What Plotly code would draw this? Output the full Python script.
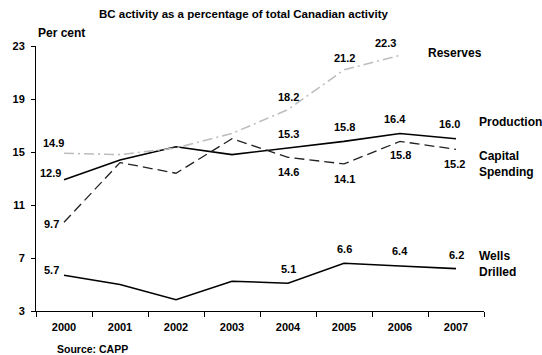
import plotly.graph_objects as go

years = ["2000", "2001", "2002", "2003", "2004", "2005", "2006", "2007"]
production = [12.9, 14.4, 15.4, 14.8, 15.3, 15.8, 16.4, 16.0]
capital_spending = [9.7, 14.2, 13.4, 16.0, 14.6, 14.1, 15.8, 15.2]
reserves = [14.9, 14.8, 15.3, 16.4, 18.2, 21.2, 22.3, None]
wells_drilled = [5.7, 5.0, 3.85, 5.25, 5.1, 6.6, 6.4, 6.2]

y_ticks = [3, 7, 11, 15, 19, 23]

title = "BC activity as a percentage of total Canadian activity"
source = "Source: CAPP"
y_title = "Per cent"

FONT = "Liberation Sans, Arial, sans-serif"

fig = go.Figure()

series = [
    ("Production", production, dict(color="black", width=1.6, dash="solid")),
    ("Capital Spending", capital_spending, dict(color="#222222", width=1.3, dash="10px,5px")),
    ("Reserves", reserves, dict(color="#bdbdbd", width=1.6, dash="10px,4px,2px,4px")),
    ("Wells Drilled", wells_drilled, dict(color="black", width=1.6, dash="solid")),
]
for name, vals, line in series:
    fig.add_trace(go.Scatter(x=years, y=vals, mode="lines", name=name, line=line,
                             connectgaps=False, showlegend=False, hoverinfo="skip"))

# labelled points: (series values, index, xshift, yshift)
label_offsets = [
    (production, 0, -14, 7), (production, 4, 0, 14), (production, 5, 0, 14),
    (production, 6, -5, 14), (production, 7, -7, 15),
    (capital_spending, 0, -13, -2), (capital_spending, 4, 0, -15), (capital_spending, 5, 0, -15),
    (capital_spending, 6, 0, -14), (capital_spending, 7, -2, -15),
    (reserves, 0, -11, 10), (reserves, 4, 0, 13), (reserves, 5, 0, 12), (reserves, 6, -15, 12),
    (wells_drilled, 0, -13, 5), (wells_drilled, 4, 0, 14), (wells_drilled, 5, 0, 14),
    (wells_drilled, 6, 0, 15), (wells_drilled, 7, 0, 14),
]
for vals, i, dx, dy in label_offsets:
    fig.add_annotation(x=i, y=vals[i], xref="x", yref="y", text=f"{vals[i]:.1f}",
                       showarrow=False, xshift=dx, yshift=dy,
                       font=dict(family=FONT, size=11, color="black", weight="bold"))

# series names on the right
series_names = [
    ("Reserves", 0.8705, 22.47),
    ("Production", 0.984, 17.26),
    ("Capital<br>Spending", 0.984, 14.06),
    ("Wells<br>Drilled", 0.984, 6.58),
]
for txt, px, py in series_names:
    fig.add_annotation(x=px, y=py, xref="paper", yref="y", text=txt, showarrow=False,
                       xanchor="left", yanchor="middle", align="left",
                       font=dict(family=FONT, size=12, color="black", weight="bold"))

fig.add_annotation(x=0, y=1.0, xref="paper", yref="paper", text=y_title, showarrow=False,
                   xanchor="left", yanchor="bottom", yshift=4,
                   font=dict(family=FONT, size=12, color="black", weight="bold"))
fig.add_annotation(x=(55 - 36) / 448, y=-(349 - 311) / 265, xref="paper", yref="paper",
                   text=source, showarrow=False, xanchor="left", yanchor="middle",
                   font=dict(family=FONT, size=10.5, color="black", weight="bold"))
fig.add_annotation(x=(243 - 36) / 448, y=1 + (46 - 14) / 265, xref="paper", yref="paper",
                   text=title, showarrow=False, xanchor="center", yanchor="middle",
                   font=dict(family=FONT, size=11.5, color="black", weight="bold"))

fig.update_layout(
    width=542, height=355,
    margin=dict(l=36, r=58, t=46, b=44),
    paper_bgcolor="white", plot_bgcolor="white",
    font=dict(family=FONT, color="black"),
    showlegend=False,
)

fig.update_xaxes(type="category", range=[-0.5, 7.5], showline=True, linecolor="black", linewidth=1,
                 ticks="outside", ticklen=5, tickcolor="black", tickson="boundaries",
                 showgrid=False, zeroline=False, ticklabelstandoff=6,
                 tickfont=dict(family=FONT, size=11, color="black", weight="bold"))
fig.update_yaxes(range=[3, 23], tickvals=y_ticks, showline=True, linecolor="black", linewidth=1,
                 ticks="outside", ticklen=4, tickcolor="black", showgrid=False, zeroline=False,
                 ticklabelstandoff=4,
                 tickfont=dict(family=FONT, size=11, color="black", weight="bold"))

fig.write_html("out.html")
